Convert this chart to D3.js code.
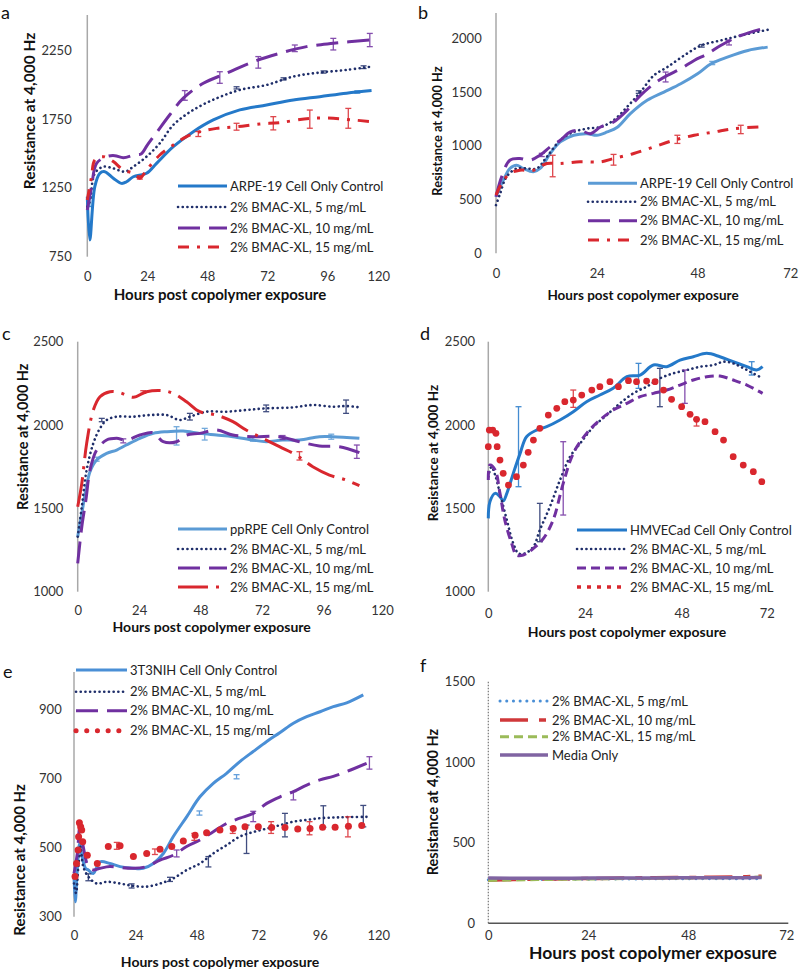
<!DOCTYPE html>
<html><head><meta charset="utf-8">
<script src="https://cdn.jsdelivr.net/npm/d3@7/dist/d3.min.js"></script>
<style>
body{margin:0;background:#fff}
svg{display:block}
text{font-family:Lato,"Open Sans",sans-serif}
</style>
</head><body>
<svg id="chart" width="800" height="972"></svg>
<script>
// ---------------- DATA (hours, resistance at 4,000 Hz) ----------------
const legendNamesStd = ["2% BMAC-XL, 5 mg/mL","2% BMAC-XL, 10 mg/mL","2% BMAC-XL, 15 mg/mL"];
const xTicks120 = [0,24,48,72,96,120];
const xTicks72 = [0,24,48,72];
const yTicksA = [750,1250,1750,2250];
const yTicksB = [0,500,1000,1500,2000];
const yTicksCD = [1000,1500,2000,2500];
const yTicksE = [300,500,700,900];
const yTicksF = [0,500,1000,1500];

// Panel a
const a_ctrl = [[0,1185],[1,871],[3,1258],[5,1355],[7,1367],[10.4,1319],[13.7,1282],[15.7,1294],[18.4,1330],[23.7,1355],[27.7,1427],[34.4,1548],[42.4,1657],[50.4,1742],[61,1815],[71.7,1851],[82.4,1887],[93,1911],[103.7,1936],[113.7,1955]];
const a_d5 = [[0,1113],[1,1150],[3,1355],[6.4,1403],[10.4,1391],[15,1367],[18.4,1403],[23.7,1476],[29,1573],[34.4,1706],[42.4,1815],[51.7,1899],[61,1960],[71.7,1996],[82.4,2057],[93,2086],[103.7,2105],[113.7,2129]];
const a_d10 = [[0,1089],[1.7,1258],[3.7,1427],[7.7,1476],[11,1483],[14.4,1468],[19,1490],[21.5,1495],[24,1560],[27.7,1650],[33,1780],[38.4,1900],[46.4,2008],[55.7,2081],[66.4,2165],[77,2226],[87.7,2274],[98.4,2298],[113,2322]];
const a_d15 = [[0,1161],[1.7,1331],[3,1452],[6.4,1476],[10.4,1440],[14.4,1379],[18.4,1355],[21,1319],[23.7,1379],[29,1488],[34.4,1560],[39.7,1621],[45,1657],[51.7,1681],[59.7,1693],[69,1713],[77,1723],[89,1754],[98.4,1754],[106.4,1742],[113.7,1730]];
const a_err_ctrl = [[1,1150,36],[108,1945,8]];
const a_err_d5 = [[59.7,1975,8],[78.5,2040,8],[94.5,2090,8],[110.5,2125,10]];
const a_err_d10 = [[39,1920,35],[53,2050,42],[68.4,2160,42],[83,2262,24],[98.4,2292,42],[113,2322,48]];
const a_err_d15 = [[21,1325,12],[44.4,1640,18],[59.7,1693,25],[74.4,1718,48],[89,1748,66],[104.4,1754,72]];

// Panel b
const b_ctrl = [[0,526],[1.75,680],[3.3,789],[4.9,820],[6.5,789],[8.9,758],[10.5,789],[12.9,928],[15.3,1036],[18.5,1098],[21.7,1113],[24,1098],[26.5,1129],[28.8,1170],[32,1299],[36,1423],[40,1500],[44,1577],[48,1670],[51.2,1763],[55.1,1825],[60,1887],[64.7,1918]];
const b_d5 = [[0,448],[1,557],[2.5,711],[4.9,789],[7.3,789],[9.7,789],[12.1,897],[15.3,1052],[18.5,1129],[21.7,1160],[24.9,1175],[28,1237],[31.2,1361],[34.4,1500],[37.6,1655],[40.8,1732],[44.8,1840],[48.8,1933],[53.5,1980],[58.3,2026],[64.7,2079]];
const b_d10 = [[0,526],[1.35,711],[3.3,866],[5.7,882],[8.1,866],[10.5,913],[12.9,990],[15.3,1052],[17.7,1129],[20,1144],[22.5,1113],[24.9,1175],[28,1222],[31.2,1330],[34.4,1469],[37.6,1577],[40.8,1655],[44,1717],[47.2,1794],[50.4,1856],[53.5,1933],[58.3,2026],[64.7,2103]];
const b_d15 = [[0,541],[1.35,650],[3.3,742],[5.7,773],[8.9,773],[12.1,835],[15.3,835],[20,851],[24.9,851],[28,882],[32.8,928],[37.6,990],[42.4,1052],[47.2,1098],[52,1129],[56.7,1160],[63,1175]];
const b_err_ctrl = [[51.5,1770,15]];
const b_err_d5 = [[34,1500,12],[49,1930,12]];
const b_err_d10 = [[10.9,915,15],[40.4,1640,46],[55.5,1960,22]];
const b_err_d15 = [[13.5,812,100],[28,870,50],[43.2,1060,38],[58.3,1152,39]];

// Panel c
const c_ctrl = [[0,1330],[1.6,1470],[3.2,1610],[4.8,1720],[7.4,1790],[11.3,1830],[15.2,1850],[19,1880],[24.3,1920],[29.5,1950],[34.7,1960],[41.2,1964],[47.7,1950],[54.2,1940],[60.6,1930],[68.4,1910],[73.6,1900],[80,1910],[86.6,1910],[94.4,1930],[99.6,1930],[110,1920]];
const c_d5 = [[0,1330],[1.6,1510],[3.5,1730],[6.1,1890],[8.7,1980],[11.3,2030],[15.2,2050],[21.7,2050],[28.2,2060],[34.7,2060],[39.9,2030],[43.8,2050],[50.3,2080],[58,2080],[65.8,2090],[73.6,2100],[84,2106],[91.8,2120],[99.6,2110],[104.8,2114],[110,2106]];
const c_d10 = [[0,1170],[1.6,1390],[3.2,1550],[4.8,1730],[7.4,1850],[11.3,1910],[15.2,1920],[19,1910],[24.3,1940],[29.5,1954],[33.4,1900],[38.6,1900],[42.5,1940],[47.7,1950],[54.2,1970],[60.6,1940],[68.4,1930],[78.8,1930],[86.6,1900],[94.4,1874],[102.2,1870],[110,1834]];
const c_d15 = [[0,1510],[1.6,1650],[3.5,1890],[6.1,2090],[8.7,2170],[12.6,2200],[16.5,2194],[21.7,2166],[26.9,2200],[33.4,2206],[37.3,2190],[42.5,2140],[47.7,2080],[54.2,2060],[60.6,2020],[65.8,1970],[72.3,1920],[78.8,1870],[85.3,1820],[91.8,1750],[98.3,1700],[104.8,1670],[110,1636]];
const c_err_ctrl = [[7.4,1795,12],[38.6,1935,55],[49.6,1945,35],[68.4,1915,12],[99,1930,15]];
const c_err_d5 = [[9.4,2030,10],[43.8,2050,20],[73.6,2100,20],[104.8,2110,40]];
const c_err_d10 = [[17.8,1905,12],[80,1925,12],[109,1840,40]];
const c_err_d15 = [[25.6,2198,8],[86.6,1815,25]];

// Panel d
const d_ctrl = [[0,1440],[0.4,1540],[1.7,1590],[2.9,1570],[3.7,1545],[4.6,1590],[6.2,1710],[7.9,1830],[9.5,1930],[12,1970],[14.5,1990],[17.8,2030],[21.1,2080],[24.4,2140],[27.7,2180],[31,2220],[34.4,2290],[37.7,2300],[41,2360],[44.3,2350],[47.6,2390],[50.9,2410],[54.2,2430],[57.5,2410],[60.8,2380],[64.2,2350],[66.6,2330],[68.1,2350]];
const d_d5 = [[0,1690],[0.8,1750],[1.7,1700],[2.9,1590],[4.6,1430],[6.2,1290],[7.5,1230],[9.1,1230],[11.2,1270],[12.8,1370],[15.3,1510],[17.8,1670],[20.3,1810],[22.8,1890],[26.1,1990],[29.4,2060],[32.7,2130],[36,2190],[39.3,2230],[42.6,2280],[45.9,2310],[49.3,2330],[52.6,2350],[55.9,2360],[58.4,2380],[60.8,2370],[64.2,2330],[68.1,2280]];
const d_d10 = [[0,1670],[0.4,1760],[1.7,1730],[2.9,1590],[4.1,1430],[5.8,1290],[7,1220],[8.7,1220],[11.2,1260],[13.7,1320],[16.1,1430],[18.6,1650],[21.1,1830],[24.4,1950],[27.7,2030],[31,2090],[34.4,2130],[37.7,2170],[41,2190],[44.3,2210],[47.6,2240],[50.9,2270],[54.2,2290],[57.5,2294],[60.8,2270],[64.2,2240],[68.1,2190]];
const d_d15 = [[0,1870],[0.25,1970],[1.1,1970],[1.9,1950],[2.2,1870],[2.9,1790],[3.7,1710],[5,1640],[7,1690],[8.7,1760],[9.9,1836],[11.2,1910],[12.8,1980],[14.9,2060],[17,2100],[19,2140],[21.1,2150],[23.2,2180],[25.7,2210],[27.7,2230],[30.2,2260],[32.3,2230],[34.8,2266],[36.8,2260],[39.3,2264],[41.4,2260],[43.5,2210],[45.5,2154],[48,2110],[50.1,2064],[51.7,2034],[53.8,2020],[56.3,1960],[58.4,1910],[60.8,1810],[63.3,1760],[65.8,1720],[67.9,1660]];
const d_err_ctrl = [[7.5,1870,240],[37.3,2295,75],[65.4,2340,40]];
const d_err_d5 = [[12.8,1415,115],[42.6,2225,115]];
const d_err_d10 = [[18.6,1680,220],[48.8,2230,100]];
const d_err_d15 = [[21.1,2158,52],[51.7,2014,20]];

// Panel e
const e_ctrl = [[0,420],[0.5,343],[1.3,440],[2.2,512],[3,480],[4.5,440],[5.6,435],[7.5,425],[10.2,459],[14,454],[18,445],[23.2,440],[27,440],[31,454],[34.9,483],[38.8,532],[44,589],[49.2,647],[54.4,686],[59.6,715],[64.8,749],[70,778],[75.3,807],[80.5,833],[85.7,860],[90.9,879],[96.1,893],[101.3,908],[106.5,919],[113,942]];
const e_d5 = [[0,396],[0.8,368],[1.7,445],[2.6,503],[3.6,445],[5.6,416],[8.9,396],[12.8,401],[18,396],[23.2,389],[28.4,387],[33.6,396],[38.8,411],[44,435],[49.2,454],[54.4,483],[59.6,507],[64.8,532],[70,545],[75.3,555],[80.5,565],[85.7,575],[90.9,580],[96.1,585],[101.3,587],[106.5,588],[114.3,589]];
const e_d10 = [[0,425],[1.3,483],[2.3,560],[3.6,503],[5.6,445],[7.5,435],[10.2,440],[14,445],[18,442],[23.2,440],[28.4,445],[33.6,464],[38.8,478],[44,503],[49.2,522],[54.4,546],[59.6,570],[64.8,585],[70,599],[75.3,628],[80.5,647],[85.7,662],[90.9,681],[96.1,696],[101.3,706],[106.5,720],[114.3,744]];
const e_d15 = [[0.4,416],[1,454],[1.6,493],[1.8,531],[2.1,572],[2.6,560],[3,551],[3.4,517],[5.2,478],[9.1,454],[13.4,503],[18,505],[23.2,474],[28.4,483],[33.6,495],[38.2,503],[42.7,519],[47.3,536],[51.8,543],[57,551],[62.2,555],[66.8,560],[72,560],[77.2,558],[82.4,558],[87.4,554],[92.2,555],[97.1,559],[102,559],[107.2,562],[112.4,564]];
const e_err_ctrl = [[49,600,6],[63.5,705,6]];
const e_err_d5 = [[5.6,414,10],[22.5,389,6],[37.5,408,6],[52.5,459,15],[67.4,524,41],[82.4,565,34],[97.4,590,31],[113,591,31]];
const e_err_d10 = [[40.1,483,10],[70,590,15],[85.7,650,12],[115.4,745,18]];
const e_err_d15 = [[16.7,505,10],[31.6,488,8],[47,531,10],[62,551,10],[77,558,17],[92,556,19],[107,560,29]];

// Panel f
const f_d5 = [[0,270],[10,272],[20,273],[30,275],[40,276],[50,276],[60,277],[65.6,276]];
const f_d10 = [[0,268],[10,274],[20,277],[30,280],[40,283],[50,285],[60,288],[65.6,292]];
const f_d15 = [[0,266],[10,271],[20,274],[30,277],[40,279],[50,282],[60,284],[65.6,287]];
const f_media = [[0,282],[10,279],[20,280],[30,281],[40,282],[50,283],[60,283],[65.6,284]];

// ---------------- STYLES ----------------
const C = {blue:"#2479C9", blueL:"#5B9BD5", blueE:"#4A8FD6", navy:"#1F2E6A", purple:"#7030A0",
           red:"#D9272E", fBlue:"#4A8FD6", fRed:"#D0383A", fGreen:"#9BBB59", fPurple:"#8064A2"};
const ST = {
  solid:{w:3},
  dot:{w:2.6, dash:"0.1,4.6", cap:"round"},
  longdash:{w:3, dash:"22,9"},
  dashdot:{w:3, dash:"11,8,3,8"},
  longdashdot:{w:3, dash:"30,8,3,8"},
  dash:{w:3, dash:"9,5"},
  fdot:{w:3, dash:"0.1,6.6", cap:"round"},
  flongshort:{w:3.5, dash:"28,11,7,8"},
  fdash:{w:3, dash:"9,5"},
  fsolid:{w:3.5},
  ddot:{w:3.5, dash:"4,6"},
  edot:{w:5, dash:"0.1,10.6", cap:"round"}
};

const svg = d3.select("#chart");

function drawPanel(p){
  const g = svg.append("g");
  const x = d3.scaleLinear().domain(p.xDomain).range(p.xRange);
  const y = d3.scaleLinear().domain(p.yDomain).range(p.yRange);
  const x0 = x(0);
  g.append("line").attr("x1",x0).attr("x2",x0)
    .attr("y1",y(p.yDomain[0])).attr("y2",p.yAxisTop)
    .attr("stroke", p.yAxisColor || "#A8A8A8").attr("stroke-width", p.yAxisW || 1.5)
    .attr("stroke-dasharray", p.yAxisDash || null);
  if (p.xAxisLine){
    g.append("line").attr("x1",x0).attr("x2",x(p.xDomain[1]))
      .attr("y1",y(p.yDomain[0])).attr("y2",y(p.yDomain[0]))
      .attr("stroke","#555").attr("stroke-width",1.5);
  }
  const ya = g.append("g").attr("transform",`translate(${p.yLabelRight},0)`)
    .call(d3.axisLeft(y).tickValues(p.yTicks).tickSize(0).tickPadding(0).tickFormat(d3.format("d")));
  ya.select(".domain").remove();
  ya.selectAll("text").attr("font-size",13).attr("fill","#333").attr("font-family","Lato, sans-serif");
  const xa = g.append("g").attr("transform",`translate(0,${p.xLabelY})`)
    .call(d3.axisBottom(x).tickValues(p.xTicks).tickSize(0).tickPadding(0).tickFormat(d3.format("d")));
  xa.select(".domain").remove();
  xa.selectAll("text").attr("y",0).attr("dy","0.35em").attr("font-size",13).attr("fill","#333").attr("font-family","Lato, sans-serif");
  if (p.lastShift){
    xa.selectAll(".tick").filter(d=>d===p.xTicks[p.xTicks.length-1]).select("text").attr("dx",p.lastShift);
  }
  g.append("text").attr("x",p.xTitle[0]).attr("y",p.xTitle[1]).attr("dy","0.35em")
    .attr("text-anchor","middle").attr("font-weight","bold").attr("font-size",p.xTitle[2]).attr("fill","#111")
    .text("Hours post copolymer exposure");
  g.append("text").attr("transform",`translate(${p.yTitle[0]},${p.yTitle[1]}) rotate(-90)`).attr("dy","0.35em")
    .attr("text-anchor","middle").attr("font-weight","bold").attr("font-size",p.yTitle[2]).attr("fill","#111")
    .text("Resistance at 4,000 Hz");
  g.append("text").attr("x",p.letter[1]).attr("y",p.letter[2])
    .attr("font-family","'Liberation Serif','DejaVu Serif',serif").attr("font-size",18).attr("fill","#111")
    .text(p.letter[0]);

  const line = d3.line().x(d=>x(d[0])).y(d=>y(d[1])).curve(d3.curveCatmullRom.alpha(0.5));
  p.series.forEach(s=>{
    if (s.markers){
      g.append("g").selectAll("circle").data(s.data).join("circle")
        .attr("cx",d=>x(d[0])).attr("cy",d=>y(d[1])).attr("r",s.r).attr("fill",s.color);
    } else {
      const st = ST[s.style];
      g.append("path").datum(s.data).attr("d",line).attr("fill","none")
        .attr("stroke",s.color).attr("stroke-width",st.w)
        .attr("stroke-dasharray",st.dash||null).attr("stroke-linecap",st.cap||"butt")
        .attr("stroke-linejoin","round");
    }
    if (s.err){
      const eg = g.append("g").attr("stroke",s.color).attr("stroke-width",1.3).attr("opacity",0.85);
      s.err.forEach(e=>{
        const cx = x(e[0]), yt = y(e[1]+e[2]), yb = y(e[1]-e[2]);
        eg.append("line").attr("x1",cx).attr("x2",cx).attr("y1",yt).attr("y2",yb);
        eg.append("line").attr("x1",cx-3).attr("x2",cx+3).attr("y1",yt).attr("y2",yt);
        eg.append("line").attr("x1",cx-3).attr("x2",cx+3).attr("y1",yb).attr("y2",yb);
      });
    }
  });
  const L = p.legend;
  p.series.forEach((s,i)=>{
    const yy = L.ys[i];
    const st = ST[s.legStyle || s.style];
    g.append("line").attr("x1",L.x1).attr("x2",L.x2).attr("y1",yy).attr("y2",yy)
      .attr("stroke",s.color).attr("stroke-width",st.w)
      .attr("stroke-dasharray",st.dash||null).attr("stroke-linecap",st.cap||"butt");
    g.append("text").attr("x",L.tx).attr("y",yy).attr("dy","0.35em")
      .attr("font-size",13).attr("fill","#222").text(s.name);
  });
}

const panels = [
  {letter:["a",1,19], xDomain:[0,120], xRange:[87.3,387.3], yDomain:[750,2500], yRange:[256.7,15.5], yAxisTop:15,
   xTicks:xTicks120, yTicks:yTicksA, yLabelRight:71.7, xLabelY:276.7, lastShift:-9,
   xTitle:[220,295,15], yTitle:[30,111,15.5],
   legend:{x1:178,x2:227,tx:230,ys:[186,207,228,247]},
   series:[
    {name:"ARPE-19 Cell Only Control", data:a_ctrl, color:C.blue, style:"solid", err:a_err_ctrl},
    {name:legendNamesStd[0], data:a_d5, color:C.navy, style:"dot", err:a_err_d5},
    {name:legendNamesStd[1], data:a_d10, color:C.purple, style:"longdash", err:a_err_d10},
    {name:legendNamesStd[2], data:a_d15, color:C.red, style:"dashdot", err:a_err_d15}]},
  {letter:["b",418,19], xDomain:[0,72], xRange:[496,798.3], yDomain:[0,2000], yRange:[253.3,38.3], yAxisTop:13,
   xTicks:xTicks72, yTicks:yTicksB, yLabelRight:481.7, xLabelY:273.3, lastShift:-8,
   xTitle:[643,295,13.5], yTitle:[438,131,12.8],
   legend:{x1:588,x2:637,tx:640,ys:[183.3,201.7,220.7,240]},
   series:[
    {name:"ARPE-19 Cell Only Control", data:b_ctrl, color:C.blueL, style:"solid", err:b_err_ctrl},
    {name:legendNamesStd[0], data:b_d5, color:C.navy, style:"dot", err:b_err_d5},
    {name:legendNamesStd[1], data:b_d10, color:C.purple, style:"longdash", err:b_err_d10},
    {name:legendNamesStd[2], data:b_d15, color:C.red, style:"dashdot", err:b_err_d15}]},
  {letter:["c",2,340], xDomain:[0,120], xRange:[77.7,385], yDomain:[1000,2500], yRange:[591.7,341.7], yAxisTop:341.7,
   xTicks:xTicks120, yTicks:yTicksCD, yLabelRight:63.3, xLabelY:610, lastShift:-3,
   xTitle:[211.7,626.7,14], yTitle:[23,436.7,14.5],
   legend:{x1:178,x2:227,tx:230,ys:[529,549,568,587]},
   series:[
    {name:"ppRPE Cell Only Control", data:c_ctrl, color:C.blueL, style:"solid", err:c_err_ctrl},
    {name:legendNamesStd[0], data:c_d5, color:C.navy, style:"dot", err:c_err_d5},
    {name:legendNamesStd[1], data:c_d10, color:C.purple, style:"longdash", err:c_err_d10},
    {name:legendNamesStd[2], data:c_d15, color:C.red, style:"longdashdot", err:c_err_d15}]},
  {letter:["d",420,340], xDomain:[0,72], xRange:[488.3,778.3], yDomain:[1000,2500], yRange:[591.7,341.7], yAxisTop:341.7,
   xTicks:xTicks72, yTicks:yTicksCD, yLabelRight:475, xLabelY:613.3, lastShift:-11.5,
   xTitle:[627,631.7,14], yTitle:[433,453,13.5],
   legend:{x1:577,x2:627,tx:630,ys:[530,549,568,587]},
   series:[
    {name:"HMVECad Cell Only Control", data:d_ctrl, color:C.blue, style:"solid", err:d_err_ctrl},
    {name:legendNamesStd[0], data:d_d5, color:C.navy, style:"dot", err:d_err_d5},
    {name:legendNamesStd[1], data:d_d10, color:C.purple, style:"dash", err:d_err_d10},
    {name:legendNamesStd[2], data:d_d15, color:C.red, markers:true, r:3.4, legStyle:"ddot", err:d_err_d15}]},
  {letter:["e",3,678], xDomain:[0,120], xRange:[74,381.2], yDomain:[300,1000], yRange:[916.7,674.8], yAxisTop:672,
   xTicks:xTicks120, yTicks:yTicksE, yLabelRight:61.7, xLabelY:935, lastShift:-3,
   xTitle:[220,961.7,14], yTitle:[20,860,15],
   legend:{x1:76,x2:127,tx:130,ys:[670,691.7,710.7,730.7]},
   series:[
    {name:"3T3NIH Cell Only Control", data:e_ctrl, color:C.blueE, style:"solid", err:e_err_ctrl},
    {name:legendNamesStd[0], data:e_d5, color:C.navy, style:"dot", err:e_err_d5},
    {name:legendNamesStd[1], data:e_d10, color:C.purple, style:"longdash", err:e_err_d10},
    {name:legendNamesStd[2], data:e_d15, color:C.red, markers:true, r:3.5, legStyle:"edot", err:e_err_d15}]},
  {letter:["f",420,672], xDomain:[0,72], xRange:[488.3,788.3], yDomain:[0,1500], yRange:[923.3,681.7], yAxisTop:681.7,
   yAxisDash:"1.5,1.5", yAxisColor:"#777", yAxisW:1.2, xAxisLine:true,
   xTicks:xTicks72, yTicks:yTicksF, yLabelRight:475, xLabelY:935, lastShift:-2,
   xTitle:[653,953.3,17.5], yTitle:[433,802,14.5],
   legend:{x1:500,x2:548,tx:552,ys:[701,720,736.7,755]},
   series:[
    {name:legendNamesStd[0], data:f_d5, color:C.fBlue, style:"fdot"},
    {name:legendNamesStd[1], data:f_d10, color:C.fRed, style:"flongshort"},
    {name:legendNamesStd[2], data:f_d15, color:C.fGreen, style:"fdash"},
    {name:"Media Only", data:f_media, color:C.fPurple, style:"fsolid"}]}
];
panels.forEach(drawPanel);
</script>
</body></html>
